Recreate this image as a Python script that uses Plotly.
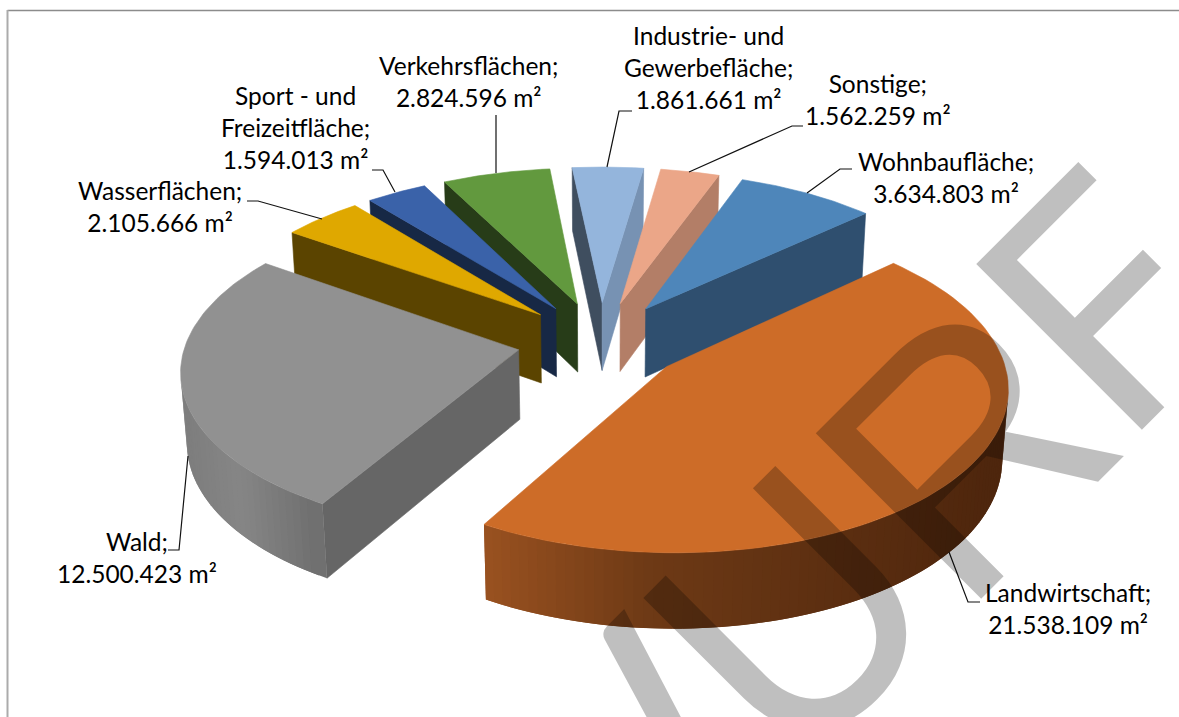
import numpy as np
import plotly.graph_objects as go

# ---- data ----
categories = ["Wohnbaufläche", "Landwirtschaft", "Wald", "Wasserflächen",
              "Sport - und Freizeitfläche", "Verkehrsflächen",
              "Industrie- und Gewerbefläche", "Sonstige"]
values = [3634803, 21538109, 12500423, 2105666, 1594013, 2824596, 1861661, 1562259]
value_labels = ["3.634.803 m²", "21.538.109 m²", "12.500.423 m²", "2.105.666 m²",
                "1.594.013 m²", "2.824.596 m²", "1.861.661 m²", "1.562.259 m²"]
top_colors = ["#4E86BA", "#CD6C28", "#919191", "#DFA800", "#3A62A9", "#62993E", "#94B5DC", "#EBA688"]
start_wall = ["#2F4F6F", "#7B4118", "#666666", "#5B4400", "#172845", "#273C18", "#3F4E5F", "#B37E67"]
end_wall = ["#2F4F6F", "#7B4118", "#666666", "#5B4400", "#172845", "#273C18", "#7792B3", "#B37E67"]

# ---- 3-D pie camera (fitted to the picture) ----
CX, CY, SCALE, PHI, DIST, ROT, EXPLODE, THICK = 600.49, 341.21, 332.66, 0.4982, 7.79, 0.3494, 0.2504, 0.2404
FONT = "Lato"
W, H = 1179, 717


def project(u, v, z):
    u, v, z = np.asarray(u, float), np.asarray(v, float), np.asarray(z, float)
    d = DIST + v * np.cos(PHI) - z * np.sin(PHI)
    return CX + SCALE * DIST * u / d, CY - SCALE * DIST * (v * np.sin(PHI) + z * np.cos(PHI)) / d


cam = np.array([0.0, -DIST * np.cos(PHI), DIST * np.sin(PHI)])


def visible(nx, ny, px, py):
    return nx * (cam[0] - px) + ny * (cam[1] - py) > 0


def poly(us, vs, zs, color, lw=0.6):
    x, y = project(us, vs, zs)
    return go.Scatter(x=np.r_[x, x[0]], y=np.r_[y, y[0]], mode="lines", fill="toself",
                      fillcolor=color, line=dict(color=color, width=lw),
                      hoverinfo="skip", showlegend=False)


def arc_color(i, x):
    if i == 1:
        xs, r, g, b = [485, 660, 1000], [156, 110, 78], [83, 58, 38], [33, 22, 13]
    elif i == 2:
        xs, r, g, b = [185, 245, 327], [126, 134, 110], [126, 134, 110], [126, 134, 110]
    else:
        return None
    return "rgb(%d,%d,%d)" % tuple(np.interp(x, xs, c) for c in (r, g, b))


vals = np.array(values, float)
sweep = vals / vals.sum() * 2 * np.pi
ends = ROT + np.cumsum(sweep)
starts = ends - sweep
mids = (starts + ends) / 2

fig = go.Figure()
for i in np.argsort(-np.cos(mids)):
    s, t, m = starts[i], ends[i], mids[i]
    ax, ay = EXPLODE * np.sin(m), EXPLODE * np.cos(m)
    # radial walls
    for ang, nx, ny, col in ((s, -np.cos(s), np.sin(s), start_wall[i]),
                             (t, np.cos(t), -np.sin(t), end_wall[i])):
        if visible(nx, ny, ax + 0.5 * np.sin(ang), ay + 0.5 * np.cos(ang)):
            ox, oy = ax + np.sin(ang), ay + np.cos(ang)
            fig.add_trace(poly([ax, ox, ox, ax], [ay, oy, oy, ay], [0, 0, -THICK, -THICK], col))
    # curved wall, in narrow overlapping strips so that its shading can run across it
    n = max(2, int(np.degrees(t - s) / 1.5))
    th = np.linspace(s, t, n + 1)
    step = th[1] - th[0]
    for a in th[:-1][::-1]:
        c = a + step / 2
        ux, uy = ax + np.sin(c), ay + np.cos(c)
        if visible(np.sin(c), np.cos(c), ux, uy):
            col = arc_color(i, float(project(ux, uy, 0)[0]))
            if col:
                b = min(a + 2 * step, t)
                arc = np.linspace(a, b, 4)
                us = np.r_[ax + np.sin(arc), ax + np.sin(arc[::-1])]
                vs = np.r_[ay + np.cos(arc), ay + np.cos(arc[::-1])]
                zs = np.r_[np.zeros(4), np.full(4, -THICK)]
                fig.add_trace(poly(us, vs, zs, col, lw=0))
    # top face
    th = np.linspace(s, t, 80)
    fig.add_trace(poly(np.r_[ax, ax + np.sin(th)], np.r_[ay, ay + np.cos(th)], np.zeros(81), top_colors[i]))

leaders = [
    [(807, 193), (840, 169), (852, 169)],
    [(689, 172), (792, 126), (803, 126)],
    [(607, 167), (619, 111), (632, 111)],
    [(496, 173), (496, 115)],
    [(395, 192), (383, 170), (372, 170)],
    [(322, 219), (258, 201), (247, 201)],
    [(188, 456), (179, 550), (168, 550)],
    [(949, 552), (968, 602), (980, 602)],
]
for pts in leaders:
    xs, ys = zip(*pts)
    fig.add_trace(go.Scatter(x=xs, y=ys, mode="lines", line=dict(color="#111111", width=1.2),
                             hoverinfo="skip", showlegend=False))

label_lines = [
    (["Wohnbaufläche;", value_labels[0]], 946, 177.5),
    (["Landwirtschaft;", value_labels[1]], 1068, 608.5),
    (["Wald;", value_labels[2]], 137, 557.5),
    (["Wasserflächen;", value_labels[3]], 160, 206.5),
    (["Sport - und", "Freizeitfläche;", value_labels[4]], 295, 127.5),
    (["Verkehrsflächen;", value_labels[5]], 468, 81.5),
    (["Industrie- und", "Gewerbefläche;", value_labels[6]], 708, 67.5),
    (["Sonstige;", value_labels[7]], 878, 99.5),
]
annotations = [dict(x=x, y=y, xref="x", yref="y", text="<br>".join(t), showarrow=False,
                    font=dict(family=FONT, size=24.5, color="#000000"), align="center")
               for t, x, y in label_lines]
wm = [("ENTW", 846, 540, "right", "top", FONT, 327), ("U", 785, 608, "center", "middle", FONT, 327),
      ("R", 965, 448, "center", "middle", "Liberation Sans", 340), ("F", 1096, 296, "center", "middle", FONT, 327)]
for text, x, y, xa, ya, fam, size in wm:
    annotations.append(dict(x=x, y=y, xref="x", yref="y", xanchor=xa, yanchor=ya, text=text,
                            showarrow=False, textangle=-45,
                            font=dict(family=fam, size=size, color="rgba(0,0,0,0.25)")))

fig.update_layout(
    width=W, height=H, margin=dict(l=0, r=0, t=0, b=0), showlegend=False,
    paper_bgcolor="white", plot_bgcolor="white", annotations=annotations,
    xaxis=dict(range=[0, W], visible=False, fixedrange=True),
    yaxis=dict(range=[H, 0], visible=False, fixedrange=True),
    shapes=[
        dict(type="line", xref="x", yref="y", x0=7.5, x1=W, y0=10.5, y1=10.5, line=dict(color="#8C8C8C", width=1.5)),
        dict(type="line", xref="x", yref="y", x0=7.5, x1=7.5, y0=10, y1=H, line=dict(color="#ABABAB", width=2)),
    ],
)
fig.write_html("out.html", post_script="document.body.style.margin='0';document.body.style.overflow='hidden';",
               config=dict(displayModeBar=False))
